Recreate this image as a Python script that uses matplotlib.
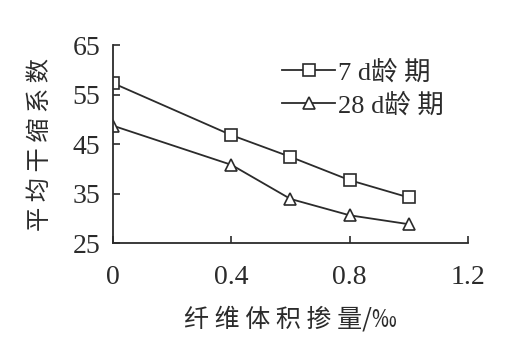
import numpy as np
import matplotlib
matplotlib.use('Agg')
import matplotlib.pyplot as plt

# data
x = [0, 0.4, 0.6, 0.8, 1.0]
d7 = [57.3, 46.8, 42.4, 37.7, 34.2]
d28 = [48.7, 40.8, 33.9, 30.6, 28.8]
xticks = [0, 0.4, 0.8, 1.2]
xticklabels = ['0', '0.4', '0.8', '1.2']
yticks = [25, 35, 45, 55, 65]

plt.rcParams['font.family'] = ['Liberation Serif', 'Noto Sans CJK SC']
col = '#2b2b2b'

fig = plt.figure(figsize=(5.1, 3.58), dpi=100)
ax = fig.add_axes([0.2216, 0.3212, 0.696, 0.553])

ax.plot(x, d7, '-', marker='s', color=col, lw=1.3, ms=8.5, mfc='white', mew=1.2, label='7 d龄 期')
ax.plot(x, d28, '-', marker='^', color=col, lw=1.3, ms=9, mfc='white', mew=1.2, label='28 d龄 期')

ax.set_xlim(0, 1.2)
ax.set_ylim(25, 65)
ax.set_xticks(xticks)
ax.set_xticklabels(xticklabels)
ax.set_yticks(yticks)
ax.tick_params(direction='in', length=5, width=1.2, colors=col, labelsize=20)
ax.tick_params(axis='x', pad=16)
ax.tick_params(axis='y', pad=9)
for s in ['top', 'right']:
    ax.spines[s].set_visible(False)
for s in ['left', 'bottom']:
    ax.spines[s].set_linewidth(1.3)
    ax.spines[s].set_color(col)

ax.set_ylabel('平 均 干 缩 系 数', fontsize=17.5, color=col, family=['Noto Sans CJK SC'], labelpad=14)
ax.set_xlabel('纤 维 体 积 掺 量/‰', fontsize=18, color=col, family=['Noto Sans CJK SC', 'DejaVu Sans'], labelpad=12)

leg = ax.legend(loc='upper left', bbox_to_anchor=(0.44, 0.99), frameon=False, fontsize=19,
                handlelength=2.0, handletextpad=0.1, labelspacing=0.3, borderpad=0)
for t in leg.get_texts():
    t.set_color(col)

fig.savefig('out.png', dpi=100)
